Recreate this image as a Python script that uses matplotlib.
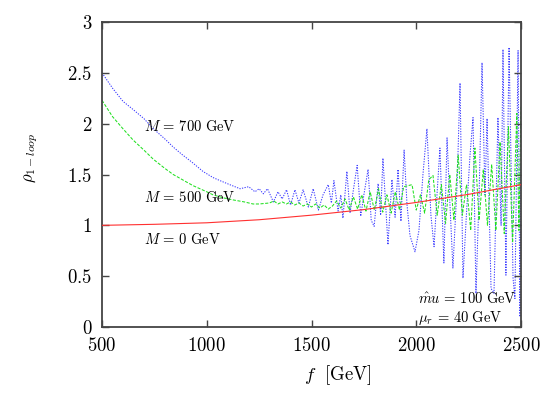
import matplotlib
matplotlib.use("Agg")
import matplotlib.pyplot as plt
import numpy as np

plt.rcParams['mathtext.fontset'] = 'cm'
plt.rcParams['font.family'] = 'serif'

# ---- data ----
f_red = [500, 750, 1000, 1250, 1500, 1750, 2000, 2250, 2500]
rho_red = [1.00, 1.01, 1.025, 1.055, 1.10, 1.155, 1.225, 1.305, 1.40]

f_green = [500, 550, 600, 648, 700, 745, 800, 840, 900, 935, 1000, 1030, 1080, 1126, 1180, 1221,
           1250, 1300, 1320, 1340, 1360, 1380, 1400, 1420, 1440, 1460, 1480, 1500, 1520, 1540,
           1560, 1580, 1600, 1620, 1640, 1660, 1680, 1700, 1720, 1740, 1760, 1780, 1800, 1820,
           1840, 1860, 1880, 1900, 1920, 1940, 1960, 1980, 2000, 2020, 2040, 2060, 2080, 2100,
           2120, 2140, 2160, 2180, 2200, 2220, 2240, 2260, 2280, 2300, 2320, 2340, 2360, 2380,
           2400, 2420, 2440, 2460, 2480, 2490, 2500]
rho_green = [2.23, 2.07, 1.95, 1.84, 1.74, 1.65, 1.56, 1.50, 1.43, 1.39, 1.33, 1.30, 1.27, 1.25, 1.23, 1.21,
             1.21, 1.22, 1.24, 1.21, 1.23, 1.21, 1.23, 1.20, 1.22, 1.19, 1.21, 1.18, 1.21, 1.17,
             1.20, 1.16, 1.19, 1.24, 1.17, 1.26, 1.15, 1.28, 1.16, 1.30, 1.14, 1.33, 1.15, 1.36,
             1.13, 1.30, 1.12, 1.33, 1.15, 1.38, 1.39, 1.40, 1.15, 1.30, 1.12, 1.45, 1.49, 1.10,
             1.40, 1.02, 1.50, 1.05, 1.69, 1.10, 1.40, 0.95, 1.76, 1.05, 1.55, 1.00, 1.60, 0.95,
             1.82, 0.92, 1.97, 0.83, 2.10, 0.95, 2.18]

f_blue = [500, 550, 600, 648, 700, 745, 800, 840, 880, 930, 982, 1030, 1063, 1110, 1159, 1200, 1230,
          1250, 1270, 1290, 1318, 1340, 1360, 1381, 1400, 1421, 1440, 1460, 1485, 1508, 1533,
          1555, 1580, 1595, 1607, 1627, 1640, 1650, 1669, 1684, 1700, 1718, 1735, 1750, 1770,
          1785, 1799, 1818, 1830, 1841, 1865, 1884, 1899, 1913, 1927, 1942, 1956, 1970, 1994,
          2013, 2032, 2051, 2070, 2085, 2099, 2113, 2132, 2147, 2161, 2175, 2195, 2209, 2223,
          2242, 2257, 2271, 2285, 2300, 2314, 2328, 2338, 2357, 2371, 2390, 2405, 2414, 2428,
          2443, 2462, 2471, 2486, 2495, 2500]
rho_blue = [2.50, 2.35, 2.22, 2.14, 2.05, 1.95, 1.85, 1.77, 1.70, 1.62, 1.53, 1.47, 1.44, 1.40, 1.36, 1.38, 1.33,
            1.36, 1.31, 1.36, 1.23, 1.33, 1.26, 1.35, 1.20, 1.35, 1.22, 1.35, 1.18, 1.36, 1.15,
            1.30, 1.40, 1.22, 1.44, 1.14, 1.30, 1.07, 1.53, 1.12, 1.35, 1.59, 1.09, 1.30, 1.55,
            1.05, 0.99, 1.41, 1.10, 1.66, 0.81, 1.45, 1.08, 1.55, 1.04, 1.74, 1.20, 0.90, 0.74,
            0.95, 1.50, 1.95, 1.10, 0.79, 1.30, 1.76, 0.63, 1.86, 1.20, 0.58, 1.40, 2.40, 0.48,
            1.20, 1.70, 2.06, 0.33, 1.30, 2.60, 1.30, 2.05, 0.38, 0.33, 2.06, 1.00, 2.73, 0.51,
            2.75, 0.48, 0.28, 2.72, 0.10, 1.60]

xticks = [500, 1000, 1500, 2000, 2500]
yticks = [0, 0.5, 1, 1.5, 2, 2.5, 3]

# ---- figure ----
fig = plt.figure(figsize=(5.54, 4.04), dpi=100)
ax = fig.add_axes([102/554, 1-327/404, (521-102)/554, (327-22)/404])

ax.plot(f_red, rho_red, color='#ff3030', lw=0.8, zorder=3)
ax.plot(f_green, rho_green, color='#22e022', lw=0.75, ls=(0, (3, 1.5)), zorder=2)
ax.plot(f_blue, rho_blue, color='#3a3aff', lw=0.75, ls=(0, (1.2, 1.3)), zorder=1)

ax.set_xlim(500, 2500)
ax.set_ylim(0, 3)
ax.set_xticks(xticks)
ax.set_xticklabels([f'$\\mathbf{{{t}}}$' for t in xticks], fontsize=13.5)
ax.set_yticks(yticks)
ax.set_yticklabels([f'$\\mathbf{{{t:g}}}$' for t in yticks], fontsize=13.5)
ax.tick_params(direction='in', top=True, right=True, length=5, width=1.0,
               color='#444444', pad=7)
for s in ax.spines.values():
    s.set_color('#444444')
    s.set_linewidth(1.3)

tk = dict(fontsize=10.5, va='center', ha='left')
ax.text(700, 1.97, r'$M\,=\,700\ \mathrm{GeV}$', **tk)
ax.text(700, 1.27, r'$M\,=\,500\ \mathrm{GeV}$', **tk)
ax.text(700, 0.86, r'$M\,=\,0\ \mathrm{GeV}$', **tk)
ax.text(2008, 0.27, r'$\hat{m}u\,=\,100\ \mathrm{GeV}$', **tk)
ax.text(2008, 0.09, r'$\mu_r\,=\,40\ \mathrm{GeV}$', **tk)

fig.text(338/554, 1-375/404, r'$f\ \ [\mathrm{GeV}]$', fontsize=13.5, ha='center', va='center')
fig.text(31/554, 1-158/404, r'$\rho_{1-loop}$', fontsize=12, rotation=90, ha='center', va='center')

fig.savefig('out.png', dpi=100)
